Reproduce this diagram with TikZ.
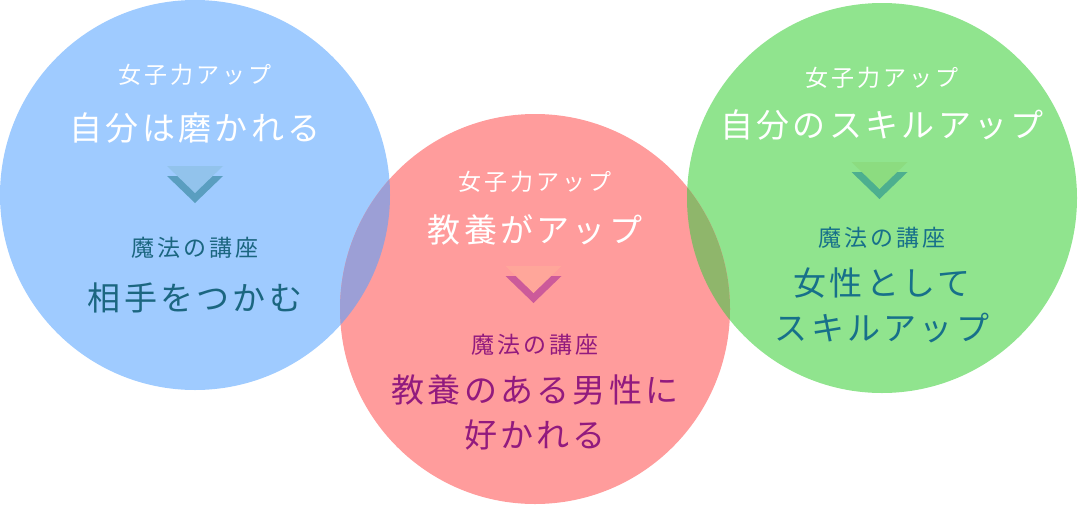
\documentclass[tikz,border=0pt]{standalone}
\usepackage{fontspec}
\newfontfamily\jpsmall{Noto Sans CJK JP}[LetterSpace=13]
\newfontfamily\jpbig{Noto Sans CJK JP}[LetterSpace=10]
\usepackage{tikz}

\definecolor{circblue}{HTML}{9FCBFF}
\definecolor{circred}{HTML}{FF9C9C}
\definecolor{circgreen}{HTML}{90E48E}
\definecolor{mixbr}{HTML}{9C9FD6}
\definecolor{mixrg}{HTML}{8FB66B}
\definecolor{txtblue}{HTML}{1B6680}
\definecolor{txtred}{HTML}{921A7E}
\definecolor{txtgreen}{HTML}{17708A}
\definecolor{chlblue}{HTML}{92C3EC}
\definecolor{chdblue}{HTML}{5A9EC0}
\definecolor{chlred}{HTML}{FFA69A}
\definecolor{chdred}{HTML}{CC5A9A}
\definecolor{chlgreen}{HTML}{8CDC80}
\definecolor{chdgreen}{HTML}{4DAF8F}

\begin{document}
\begin{tikzpicture}[x=1pt,y=-1pt,
    small/.style={inner sep=0pt, font=\jpsmall\fontsize{23}{26}\selectfont},
    big/.style={inner sep=0pt, align=center, font=\jpbig\fontsize{33}{45}\selectfont}]
        \useasboundingbox (0,0) rectangle (1078,504);
        % circles
        \coordinate (B) at (195,195);
        \coordinate (R) at (535,309);
        \coordinate (G) at (882,198);
        \fill[circblue] (B) circle[radius=195];
        \fill[circgreen] (G) circle[radius=195];
        \fill[circred] (R) circle[radius=195];
        \begin{scope}
            \clip (B) circle[radius=195];
            \fill[mixbr] (R) circle[radius=195];
        \end{scope}
        \begin{scope}
            \clip (G) circle[radius=195];
            \fill[mixrg] (R) circle[radius=195];
        \end{scope}
        % chevrons
        \foreach \cx/\cy/\lt/\dk in {195/166/chlblue/chdblue,
                533.5/266/chlred/chdred, 879.5/162/chlgreen/chdgreen}{
            \fill[\dk] (\cx-28,\cy+10) -- (\cx+28,\cy+10) -- (\cx,\cy+37) -- cycle;
            \fill[\lt] (\cx-28,\cy) -- (\cx+28,\cy) -- (\cx,\cy+27) -- cycle;
        }
        % blue
        \node[small, white] (b1) at (195,75) {女子力アップ};
        \node[big, white] (b2) at (195,128) {自分は磨かれる};
        \node[small, txtblue] (b3) at (195,248) {魔法の講座};
        \node[big, txtblue] (b4) at (195,298) {相手をつかむ};
        % red
        \node[small, white] (r1) at (535,182) {女子力アップ};
        \node[big, white] (r2) at (535,230) {教養がアップ};
        \node[small, txtred] (r3) at (535,345) {魔法の講座};
        \node[big, txtred] (r4) at (535,412) {教養のある男性に\\好かれる};
        % green
        \node[small, white] (g1) at (882,78) {女子力アップ};
        \node[big, white] (g2) at (882,125) {自分のスキルアップ};
        \node[small, txtgreen] (g3) at (882,238) {魔法の講座};
        \node[big, txtgreen] (g4) at (882,305) {女性として\\スキルアップ};
    \end{tikzpicture}
\end{document}
